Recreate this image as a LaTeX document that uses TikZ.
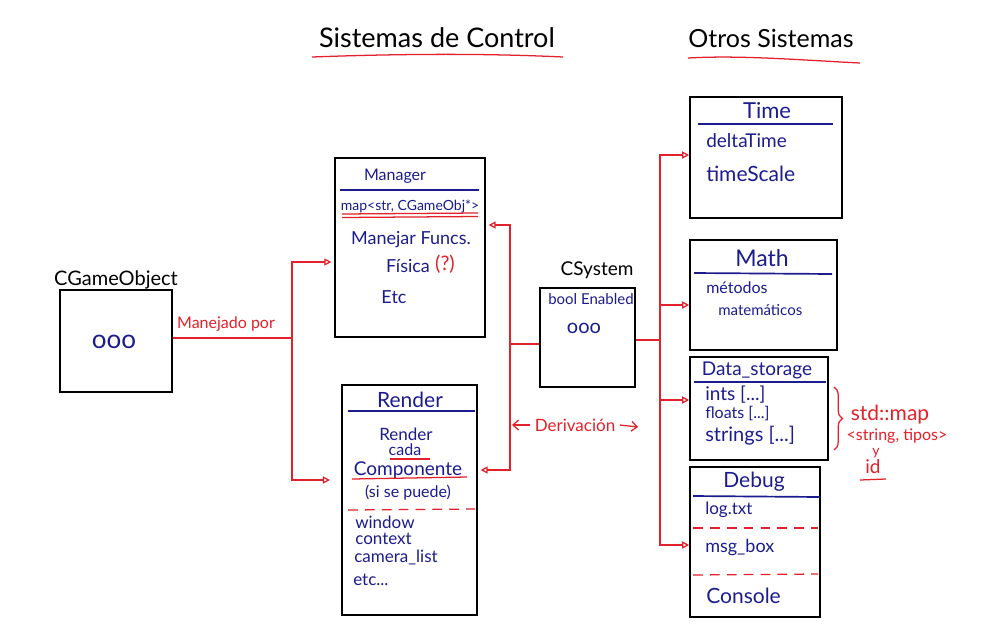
\documentclass[tikz,border=0pt]{standalone}
\usepackage{fontspec}
\setmainfont{Lato}
\usetikzlibrary{arrows.meta,decorations.pathreplacing}
\definecolor{ink}{HTML}{1C1C8E}
\definecolor{pen}{HTML}{E4202A}
\newcommand{\pxs}[1]{\fontsize{\fpeval{#1*0.7113}pt}{\fpeval{#1*0.85}pt}\selectfont}
\tikzset{
  box/.style={draw=black, line width=1.1pt, inner sep=0pt},
  txt/.style={inner sep=0pt, text=ink},
  blk/.style={inner sep=0pt, text=black},
  rtx/.style={inner sep=0pt, text=pen},
  sep/.style={draw=ink, line width=1.2pt},
  rl/.style={draw=pen, line width=0.9pt},
  dsh/.style={draw=pen, line width=0.9pt, dash pattern=on 7pt off 5pt},
  arr/.style={rl, -{Triangle[open, length=5pt, width=5pt]}},
  barb/.style={rl, -{Straight Barb[length=4pt, width=7pt]}}
}
\begin{document}
\begin{tikzpicture}[x=0.025cm, y=-0.025cm]
\useasboundingbox[fill=white] (0,0) rectangle (1000,640);

% titles
\node[blk] (t1) at (437,38) {\pxs{27}Sistemas de Control};
\draw[rl] (312,57) .. controls (420,53) and (500,54) .. (563,57);
\node[blk] (t2) at (771,38) {\pxs{25}Otros Sistemas};
\draw[rl] (688,58) .. controls (740,55) and (800,60) .. (860,63);

% CGameObject
\node[blk] (cgol) at (116,280) {\pxs{20}CGameObject};
\node[box, minimum width=2.8cm, minimum height=2.55cm] (cgo) at (116,341) {};
\node[txt] (cgod) at (114,342) {\pxs{26}ooo};

% Manager
\node[box, minimum width=3.75cm, minimum height=4.475cm] (mgr) at (410,247.5) {};
\node[txt] (mgrt) at (395,176) {\pxs{16}Manager};
\draw[sep] (340,190) -- (479,190);
\node[txt] (mgrm) at (410,206) {\pxs{14}map<str, CGameObj*>};
\draw[rl] (342,214) -- (478,213);
\draw[rl] (342,217.5) -- (478,216.5);
\node[txt] (mgrf) at (411,240) {\pxs{18}Manejar Funcs.};
\node[txt] (mgrp) at (408,266) {\pxs{18}Física};
\node[rtx] (mgrq) at (445,264) {\pxs{20}(?)};
\node[txt] (mgre) at (394,297) {\pxs{18}Etc};

% Render
\node[box, minimum width=3.375cm, minimum height=5.75cm] (rnd) at (409.5,500) {};
\node[txt] (rndt) at (410,400) {\pxs{21}Render};
\draw[sep] (348,411) -- (475,411);
\node[txt] (rnd1) at (406,434) {\pxs{17}Render};
\node[txt] (rnd2) at (405,450) {\pxs{16}cada};
\draw[rl] (390,459) -- (430,459);
\node[txt] (rnd3) at (408,470) {\pxs{19}Componente};
\draw[rl] (352,479) -- (467,477);
\node[txt] (rnd4) at (408,493) {\pxs{16}(si se puede)};
\draw[dsh] (348,510) -- (475,509);
\node[txt, anchor=west] (rnd5) at (355,522) {\pxs{17}window};
\node[txt, anchor=west] (rnd6) at (355,539) {\pxs{17}context};
\node[txt, anchor=west] (rnd7) at (354,557) {\pxs{17}camera\_list};
\node[txt, anchor=west] (rnd8) at (353,580) {\pxs{17}etc...};

% CSystem
\node[blk] (csl) at (597,270) {\pxs{19}CSystem};
\node[box, minimum width=2.375cm, minimum height=2.475cm] (csys) at (587.5,337.5) {};
\node[txt] (cs1) at (591,299) {\pxs{15}bool Enabled};
\node[txt] (cs2) at (584,328) {\pxs{20}ooo};

% Time
\node[box, minimum width=3.8cm, minimum height=3.025cm] (time) at (766,157.5) {};
\node[txt] (timet) at (767,111) {\pxs{22}Time};
\draw[sep] (698,124) -- (833,124);
\node[txt, anchor=west] (time1) at (706,141) {\pxs{19}deltaTime};
\node[txt, anchor=west] (time2) at (706,174) {\pxs{21}timeScale};

% Math
\node[box, minimum width=3.675cm, minimum height=2.75cm] (math) at (763.5,295) {};
\node[txt] (matht) at (762,258) {\pxs{23}Math};
\draw[sep] (694,273) -- (832,274);
\node[txt, anchor=west] (math1) at (706,288) {\pxs{16}métodos};
\node[txt, anchor=west] (math2) at (718,310) {\pxs{15}matemáticos};

% Data_storage
\node[box, minimum width=3.45cm, minimum height=2.575cm] (data) at (759,408.5) {};
\node[txt] (datat) at (757,370) {\pxs{19}Data\_storage};
\draw[sep] (694,382) -- (826,382);
\node[txt, anchor=west] (data1) at (705,395) {\pxs{19}ints [...]};
\node[txt, anchor=west] (data2) at (705,414) {\pxs{16}floats [...]};
\node[txt, anchor=west] (data3) at (705,436) {\pxs{20}strings [...]};
\draw[rl, decorate, decoration={brace, amplitude=6pt}] (834,387) -- (834,450);
\node[rtx] (map1) at (890,415) {\pxs{21}std::map};
\node[rtx] (map2) at (897,436) {\pxs{16}<string, tipos>};
\node[rtx] (map3) at (876,453) {\pxs{14}y};
\node[rtx] (map4) at (873,467) {\pxs{19}id};
\draw[rl] (860,480) -- (886,479);

% Debug
\node[box, minimum width=3.25cm, minimum height=3.75cm] (dbg) at (755,542) {};
\node[txt] (dbgt) at (754,482) {\pxs{21}Debug};
\draw[sep] (693,496) -- (820,497);
\node[txt, anchor=west] (dbg1) at (705,510) {\pxs{17}log.txt};
\draw[dsh] (693,528) -- (818,528);
\node[txt, anchor=west] (dbg2) at (705,548) {\pxs{18}msg\_box};
\draw[dsh] (693,575) -- (818,574);
\node[txt, anchor=west] (dbg3) at (706,596) {\pxs{21}Console};

% connectors: CGameObject -> Manager / Render
\node[rtx] (mpor) at (226,324) {\pxs{16}Manejado por};
\coordinate (jL) at (292,338);
\coordinate (mgrL) at ([xshift=-2pt]mgr.west |- 0,262);
\coordinate (rndL) at ([xshift=-8pt]rnd.west |- 0,480);
\draw[rl] (cgo.east |- jL) -- (jL);
\draw[arr] (jL) |- (mgrL);
\draw[arr] (jL) |- (rndL);

% CSystem -> Manager / Render
\coordinate (jC) at (510,344);
\coordinate (mgrR) at ([xshift=2pt]mgr.east |- 0,225);
\coordinate (rndR) at ([xshift=2pt]rnd.east |- 0,470);
\draw[rl] (csys.west |- jC) -- (jC);
\draw[arr] (jC) |- (mgrR);
\draw[arr] (jC) |- (rndR);
\node[rtx] (der) at (575,425) {\pxs{17}Derivación};
\draw[barb] (der.west) ++(-3pt,0) -- (512,425);
\draw[barb] (der.east) ++(3pt,0) -- (638,427);

% CSystem -> other systems
\coordinate (jR) at (660,340);
\draw[rl] (csys.east |- jR) -- (jR);
\draw[arr] (jR) |- (time.west |- 0,155);
\draw[arr] (jR) |- (math.west |- 0,305);
\draw[arr] (jR) |- (data.west |- 0,400);
\draw[arr] (jR) |- (dbg.west |- 0,545);
\end{tikzpicture}
\end{document}
